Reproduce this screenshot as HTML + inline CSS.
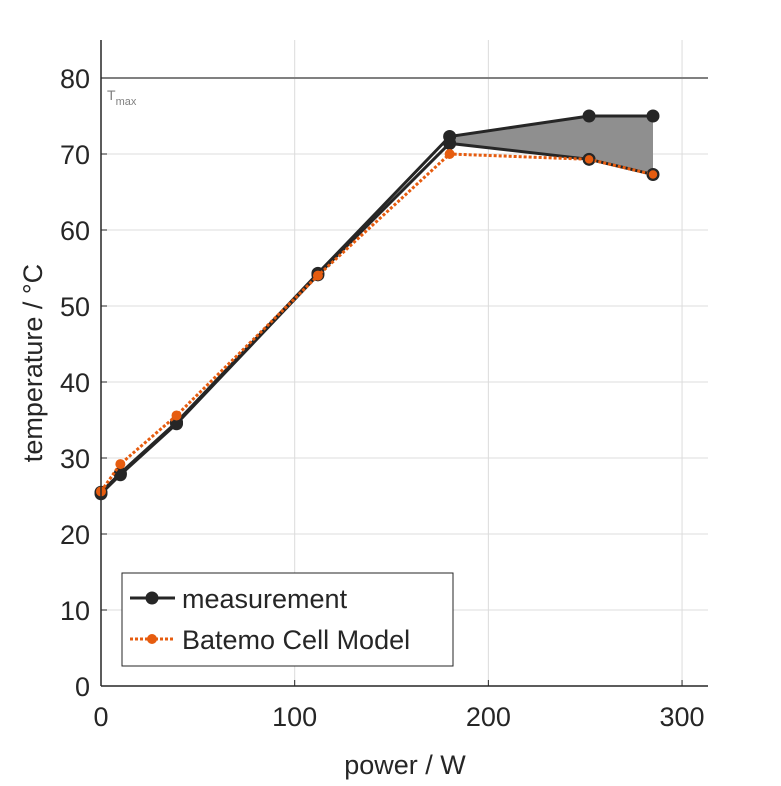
<!DOCTYPE html>
<html><head><meta charset="utf-8"><style>
body{margin:0;background:#fff}
text{font-family:"Liberation Sans",sans-serif;fill:#262626}
</style></head><body>
<svg id="c" width="781" height="781" xmlns="http://www.w3.org/2000/svg"></svg>
<script>
const xTicks=[0,100,200,300];
const yTicks=[0,10,20,30,40,50,60,70,80];
const measX=[0,10,39,112,180,252,285];
const measUpper=[25.5,28,34.7,54.3,72.3,75,75];
const measLower=[25.3,27.8,34.5,54.1,71.4,69.3,67.3];
const modelX=[0,10,39,112,180,252,285];
const modelY=[25.6,29.2,35.6,54,70,69.3,67.3];
const tmax=80;
const X0=101,X1=708,Y0=686,Y1=40,xmax=313.4,ymax=85;
const sx=v=>X0+v/xmax*(X1-X0), sy=v=>Y0-v/ymax*(Y0-Y1);
const svg=document.getElementById('c');const NS='http://www.w3.org/2000/svg';
function mk(t,a,name,p){const e=document.createElementNS(NS,t);for(const k in a)e.setAttribute(k,a[k]);


(p||svg).appendChild(e);return e;}
mk('rect',{x:X0,y:Y1,width:X1-X0,height:Y0-Y1,fill:'#fff'},'plot-area');
xTicks.forEach(t=>{mk('line',{x1:sx(t),x2:sx(t),y1:Y1,y2:Y0,stroke:'#dcdcdc'},'x-grid');
mk('line',{x1:sx(t),x2:sx(t),y1:Y0,y2:Y0-6,stroke:'#262626'},'x-tick');
const e=mk('text',{x:sx(t),y:Y0+40,'font-size':27,'text-anchor':'middle'},'x-tick-label');e.textContent=t;});
yTicks.forEach(t=>{mk('line',{x1:X0,x2:X1,y1:sy(t),y2:sy(t),stroke:'#dcdcdc'},'y-grid');
mk('line',{x1:X0,x2:X0+6,y1:sy(t),y2:sy(t),stroke:'#262626'},'y-tick');
const e=mk('text',{x:X0-11,y:sy(t)+10,'font-size':27,'text-anchor':'end'},'y-tick-label');e.textContent=t;});
mk('line',{x1:X0,x2:X1,y1:sy(tmax),y2:sy(tmax),stroke:'#808080','stroke-width':2},'tmax-line');
let e=mk('text',{x:107,y:sy(tmax)+22,'font-size':14,style:'fill:#808080'},'tmax-label');e.innerHTML='T<tspan dy="5" font-size="11">max</tspan>';
const i0=4;let pts=[];
for(let i=i0;i<measX.length;i++)pts.push(sx(measX[i])+','+sy(measUpper[i]));
for(let i=measX.length-1;i>=i0;i--)pts.push(sx(measX[i])+','+sy(measLower[i]));
mk('polygon',{points:pts.join(' '),fill:'#8f8f8f'},'measurement-range-fill');
const line=(xs,ys)=>xs.map((x,i)=>sx(x)+','+sy(ys[i])).join(' ');
mk('polyline',{points:line(measX,measLower),fill:'none',stroke:'#262626','stroke-width':3},'measurement-lower-line');
mk('polyline',{points:line(measX,measUpper),fill:'none',stroke:'#262626','stroke-width':3},'measurement-upper-line');
measX.forEach((x,i)=>{mk('circle',{cx:sx(x),cy:sy(measUpper[i]),r:6.5,fill:'#262626'},'measurement-point');
mk('circle',{cx:sx(x),cy:sy(measLower[i]),r:6.5,fill:'#262626'},'measurement-point');});
mk('polyline',{points:line(modelX,modelY),fill:'none',stroke:'#e65c0f','stroke-width':3,'stroke-dasharray':'3 2'},'model-line');
modelX.forEach((x,i)=>mk('circle',{cx:sx(x),cy:sy(modelY[i]),r:5,fill:'#e65c0f',stroke:(i>=5?'#262626':'none'),'stroke-width':1.5},'model-point'));
mk('line',{x1:X0,x2:X0,y1:Y1,y2:Y0,stroke:'#262626','stroke-width':1.5},'y-axis-line');
mk('line',{x1:X0,x2:X1,y1:Y0,y2:Y0,stroke:'#262626','stroke-width':1.5},'x-axis-line');
const g=mk('g',{},'legend');
mk('rect',{x:122,y:573,width:331,height:93,fill:'#fff',stroke:'#262626','stroke-width':1},'legend-box',g);
mk('line',{x1:130,x2:175,y1:598,y2:598,stroke:'#262626','stroke-width':3},'legend-measurement-line',g);
mk('circle',{cx:152,cy:598,r:6.5,fill:'#262626'},'legend-measurement-marker',g);
e=mk('text',{x:182,y:608,'font-size':27},'legend-measurement-label',g);e.textContent='measurement';
mk('line',{x1:130,x2:175,y1:639,y2:639,stroke:'#e65c0f','stroke-width':3,'stroke-dasharray':'3 2'},'legend-model-line',g);
mk('circle',{cx:152,cy:639,r:5,fill:'#e65c0f'},'legend-model-marker',g);
e=mk('text',{x:182,y:649,'font-size':27},'legend-model-label',g);e.textContent='Batemo Cell Model';
e=mk('text',{x:405,y:774,'font-size':27,'text-anchor':'middle'},'x-axis-title');e.textContent='power / W';
e=mk('text',{x:0,y:0,'font-size':27,'text-anchor':'middle',transform:'translate(42,363) rotate(-90)'},'y-axis-title');e.textContent='temperature / °C';
</script>
</body></html>
